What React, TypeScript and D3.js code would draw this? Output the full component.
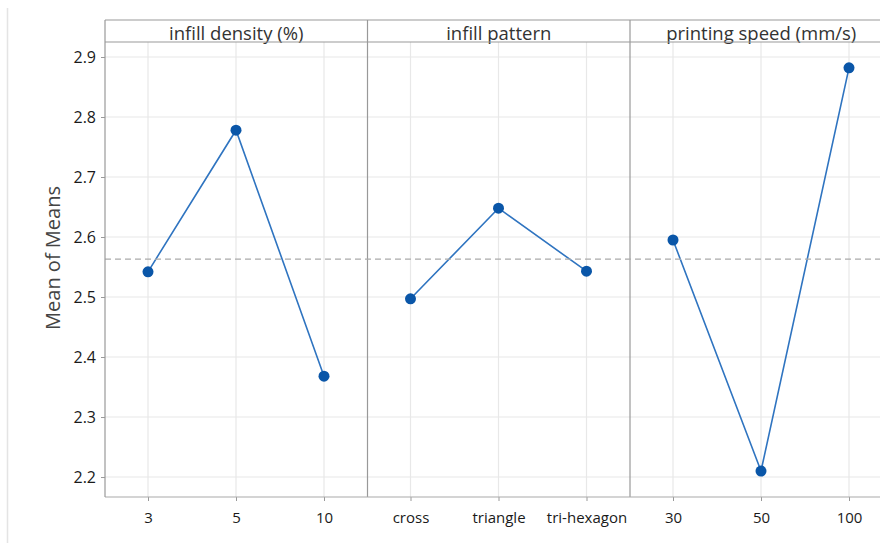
import React, { useEffect, useRef } from 'react';
import * as d3 from 'd3';

const yLabel = 'Mean of Means';
const yTicks = [2.2, 2.3, 2.4, 2.5, 2.6, 2.7, 2.8, 2.9];
const grandMean = 2.563;

const densityLevels = ['3', '5', '10'];
const densityMeans = [2.542, 2.778, 2.368];
const patternLevels = ['cross', 'triangle', 'tri-hexagon'];
const patternMeans = [2.497, 2.648, 2.543];
const speedLevels = ['30', '50', '100'];
const speedMeans = [2.595, 2.21, 2.882];

const factors = [
  { name: 'infill density (%)', levels: densityLevels, means: densityMeans },
  { name: 'infill pattern', levels: patternLevels, means: patternMeans },
  { name: 'printing speed (mm/s)', levels: speedLevels, means: speedMeans },
];

export default function App() {
  const ref = useRef<SVGSVGElement>(null);

  useEffect(() => {
    const svg = d3.select(ref.current);
    svg.selectAll('*').remove();

    const left = 105;
    const headerTop = 20;
    const top = 42;
    const bottom = 497;
    const panelW = 262.5;
    const font = '"Open Sans", "Noto Sans", sans-serif';

    const y = d3.scaleLinear().domain([2.1667, 2.925]).range([bottom, top]);

    // faint frame line on the far left
    svg.append('line')
      .attr('x1', 7.5).attr('x2', 7.5).attr('y1', 8).attr('y2', 543)
      .attr('stroke', '#e4e4e4').attr('stroke-width', 1.5);

    const fullRight = left + panelW * factors.length;

    // horizontal gridlines across all panels
    svg.append('g').selectAll('line')
      .data(yTicks).enter().append('line')
      .attr('x1', left).attr('x2', fullRight)
      .attr('y1', d => y(d)).attr('y2', d => y(d))
      .attr('stroke', '#e8e8e8').attr('stroke-width', 1.2);

    factors.forEach((f, i) => {
      const x0 = left + i * panelW;
      const x = d3.scalePoint<string>()
        .domain(f.levels)
        .range([x0 + 43, x0 + 43 + 176]);

      const g = svg.append('g');

      // vertical gridlines
      g.selectAll('line.grid')
        .data(f.levels).enter().append('line')
        .attr('class', 'grid')
        .attr('x1', d => x(d)!).attr('x2', d => x(d)!)
        .attr('y1', top).attr('y2', bottom)
        .attr('stroke', '#e8e8e8').attr('stroke-width', 1.2);

      // bottom axis
      const axis = g.append('g')
        .attr('transform', `translate(0,${bottom})`)
        .call(d3.axisBottom(x).tickSize(4).tickPadding(11));
      axis.select('.domain').remove();
      axis.selectAll('line').attr('stroke', '#999');
      axis.selectAll('text')
        .attr('font-family', font).attr('font-size', 15).attr('font-weight', 500)
        .attr('fill', '#1a1a1a');

      // header text
      g.append('text')
        .attr('x', x0 + panelW / 2).attr('y', top - 2)
        .attr('text-anchor', 'middle')
        .attr('font-family', font).attr('font-size', 18.5)
        .attr('fill', '#333')
        .text(f.name);

      // panel divider
      if (i > 0) {
        g.append('line')
          .attr('x1', x0).attr('x2', x0).attr('y1', headerTop).attr('y2', bottom)
          .attr('stroke', '#999').attr('stroke-width', 1.2);
      }

      const pts = f.levels.map((l, k) => [x(l)!, y(f.means[k])] as [number, number]);

      g.append('path')
        .attr('d', d3.line()(pts))
        .attr('fill', 'none')
        .attr('stroke', '#2f74c0').attr('stroke-width', 1.6);

      g.selectAll('circle')
        .data(pts).enter().append('circle')
        .attr('cx', d => d[0]).attr('cy', d => d[1])
        .attr('r', 5.5).attr('fill', '#0a56a8');
    });

    // grand mean reference
    svg.append('line')
      .attr('x1', left).attr('x2', fullRight)
      .attr('y1', y(grandMean)).attr('y2', y(grandMean))
      .attr('stroke', '#aaa').attr('stroke-width', 1.3)
      .attr('stroke-dasharray', '6,4');

    // header borders
    svg.append('line')
      .attr('x1', left).attr('x2', fullRight).attr('y1', headerTop).attr('y2', headerTop)
      .attr('stroke', '#999').attr('stroke-width', 1.2);
    svg.append('line')
      .attr('x1', left).attr('x2', fullRight).attr('y1', top).attr('y2', top)
      .attr('stroke', '#999').attr('stroke-width', 1.2);

    // bottom axis line
    svg.append('line')
      .attr('x1', left).attr('x2', fullRight).attr('y1', bottom).attr('y2', bottom)
      .attr('stroke', '#aaa').attr('stroke-width', 1.2);

    // left axis
    const yAxis = svg.append('g')
      .attr('transform', `translate(${left},0)`)
      .call(d3.axisLeft(y).tickValues(yTicks).tickFormat(d3.format('.1f')).tickSize(4).tickPadding(5));
    yAxis.select('.domain').remove();
    yAxis.selectAll('line').attr('stroke', '#999');
    yAxis.selectAll('text')
      .attr('font-family', font).attr('font-size', 16).attr('font-weight', 500)
      .attr('fill', '#1a1a1a');
    svg.append('line')
      .attr('x1', left).attr('x2', left).attr('y1', headerTop).attr('y2', bottom)
      .attr('stroke', '#999').attr('stroke-width', 1.2);

    svg.append('text')
      .attr('transform', `translate(60,258) rotate(-90)`)
      .attr('text-anchor', 'middle')
      .attr('font-family', font).attr('font-size', 20)
      .attr('fill', '#444')
      .text(yLabel);
  }, []);

  return (
    <svg
      ref={ref}
      width={880}
      height={543}
      style={{ position: 'absolute', left: 0, top: 0, background: '#fff' }}
    />
  );
}
